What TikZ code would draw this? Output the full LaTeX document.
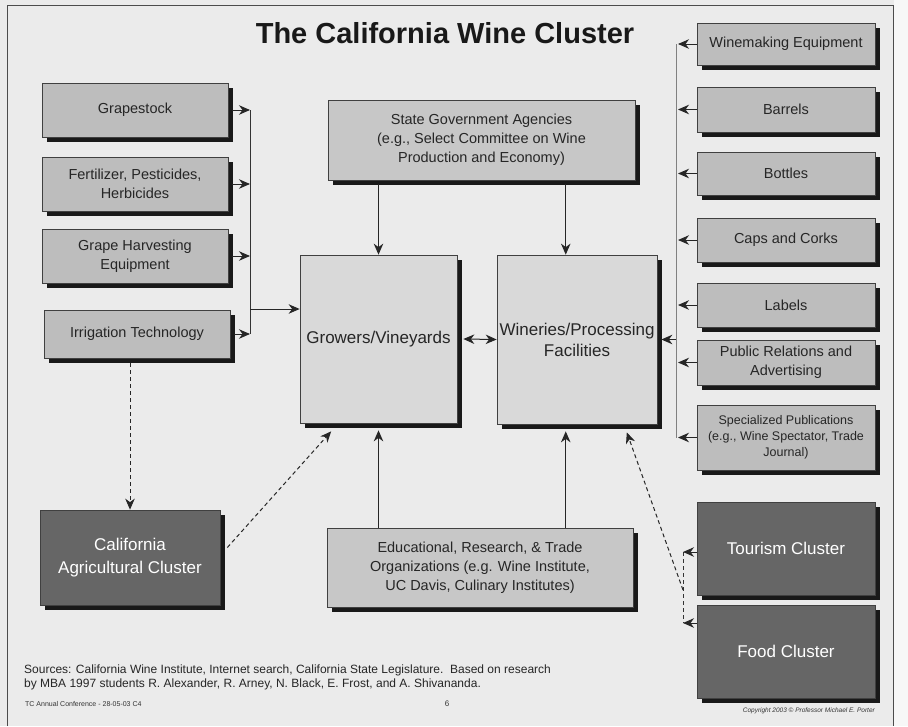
\documentclass[tikz,border=0pt]{standalone}
\usepackage{fontspec}
\setmainfont{Liberation Sans}
\usetikzlibrary{arrows.meta,shadows,calc}
\tikzset{
  box/.style={draw=black!75, line width=0.7pt, fill=#1, text=black!85, align=center, inner sep=2pt,
    font=\fontsize{14.5}{19}\selectfont,
    drop shadow={shadow xshift=4.5pt, shadow yshift=-4.5pt, fill=black!90, opacity=1}},
  box/.default=black!26,
  bigbox/.style={box=black!15, font=\fontsize{17}{21}\selectfont},
  dbox/.style={box=black!60, text=white!90, font=\fontsize{17}{23}\selectfont},
  tip/.tip={Stealth[length=11pt,width=9.5pt,inset=3.5pt]},
  arr/.style={-tip, line width=1pt, draw=black!85},
  darr/.style={arr, dash pattern=on 4pt off 3pt},
  busline/.style={line width=1pt, draw=black!80},
  lightbus/.style={line width=0.7pt, draw=black!50},
  dline/.style={line width=1pt, draw=black!80, dash pattern=on 4pt off 3pt},
}
\begin{document}
\begin{tikzpicture}[x=1pt,y=-1pt]
\useasboundingbox (0,0) rectangle (908,726);
\fill[black!8] (0,0) rectangle (908,726);
\fill[black!3] (894,0) rectangle (908,726);
\draw[black!70, line width=1pt] (7,726) -- (7,5) -- (893,5) -- (893,726);

\node[font=\fontsize{29}{34}\bfseries\selectfont, text=black!90] (title) at (445,33) {The California Wine Cluster};

% left column
\node[box, minimum width=186pt, minimum height=54pt] (grape) at (135,110) {Grapestock};
\node[box, minimum width=186pt, minimum height=54pt] (fert) at (135,184) {Fertilizer, Pesticides,\\Herbicides};
\node[box, minimum width=186pt, minimum height=54pt] (harv) at (135,256) {Grape Harvesting\\Equipment};
\node[box, minimum width=186pt, minimum height=48pt] (irr) at (137,334) {Irrigation Technology};

% centre
\node[box=black!22, minimum width=307pt, minimum height=80pt] (state) at (481.5,140) {State Government Agencies\\(e.g., Select Committee on Wine\\Production and Economy)};
\node[bigbox, minimum width=157pt, minimum height=168pt] (grow) at (378.5,339) {Growers/Vineyards};
\node[bigbox, minimum width=160pt, minimum height=169pt, inner sep=0pt] (win) at (577,339.5) {Wineries/Processing\\Facilities};
\node[box=black!22, minimum width=306pt, minimum height=79pt] (edu) at (480,567.5) {Educational, Research, \& Trade\\Organizations (e.g. Wine Institute,\\UC Davis, Culinary Institutes)};

% right column
\node[box, minimum width=178pt, minimum height=42pt] (wme) at (786,44) {Winemaking Equipment};
\node[box, minimum width=178pt, minimum height=45pt] (barrels) at (786,109.5) {Barrels};
\node[box, minimum width=178pt, minimum height=43pt] (bottles) at (786,173.5) {Bottles};
\node[box, minimum width=178pt, minimum height=44pt] (caps) at (786,240) {Caps and Corks};
\node[box, minimum width=178pt, minimum height=44pt] (labels) at (786,305) {Labels};
\node[box, minimum width=178pt, minimum height=45pt] (pr) at (786,362.5) {Public Relations and\\Advertising};
\node[box, minimum width=178pt, minimum height=65pt, font=\fontsize{12.5}{16}\selectfont] (spec) at (786,437.5) {Specialized Publications\\(e.g., Wine Spectator, Trade\\Journal)};

% dark clusters
\node[dbox, minimum width=180pt, minimum height=95pt] (ag) at (130,557.5) {California\\Agricultural Cluster};
\node[dbox, minimum width=178pt, minimum height=93pt] (tour) at (786,548.5) {Tourism Cluster};
\node[dbox, minimum width=178pt, minimum height=93pt] (food) at (786,651.5) {Food Cluster};

% left bus
\coordinate (lbus) at (250,110);
\coordinate (lj) at (250,309);
\draw[busline] (grape.east -| lbus) -- (irr.east -| lbus);
\foreach \n in {grape,fert,harv,irr} \draw[arr] ($(\n.east)+(4,0)$) -- (\n.east -| lbus);
\draw[arr] (lj) -- (lj -| grow.west);

% state government and education
\coordinate (wintop) at ($(win.north west)!0.43!(win.north east)$);
\coordinate (winbot) at ($(win.south west)!0.43!(win.south east)$);
\coordinate (winbotS) at ($(winbot)+(0,7)$);
\coordinate (growbotS) at ($(grow.south)+(0,7)$);
\draw[arr] ($(state.south -| grow.north)+(0,4)$) -- (grow.north);
\draw[arr] ($(state.south -| wintop)+(0,4)$) -- (wintop);
\draw[arr] (edu.north -| grow.south) -- (growbotS);
\draw[arr] (edu.north -| winbot) -- (winbotS);
\draw[arr, tip-tip] ($(grow.east)+(6,0)$) -- (win.west);

% right bus
\coordinate (rbus) at (676,50);
\draw[lightbus] (wme.west -| rbus) -- (spec.west -| rbus);
\foreach \n in {wme,barrels,bottles,caps,labels,pr,spec} \draw[arr] (\n.west) -- ($(\n.west -| rbus)+(2,0)$);
\draw[arr] (rbus |- win.east) -- ($(win.east)+(4,0)$);

% dashed links
\coordinate (agtail) at ($(ag.east)+(7,-10)$);
\coordinate (grhead) at ($(grow.south west)!0.2!(grow.south east)$);
\draw[darr] ($(irr.south -| ag.north)+(0,5)$) -- (ag.north);
\draw[darr] (agtail) -- ($(grhead)+(0,8)$);

\coordinate (tb) at (683,552);
\coordinate (fb) at (683,623);
\coordinate (tf) at (683,590);
\coordinate (wnhead) at ($(win.south west)!0.81!(win.south east)$);
\draw[dline] (tb) -- (fb);
\draw[arr] (tour.west |- tb) -- (tb);
\draw[arr] (food.west |- fb) -- (fb);
\draw[darr] (tf) -- ($(wnhead)+(0,8)$);

% footer
\node[anchor=north west, align=left, font=\fontsize{12}{13.5}\selectfont, text=black!85, inner sep=0pt] (src) at (24,665)
 {Sources: California Wine Institute, Internet search, California State Legislature.\ \ Based on research\\by MBA 1997 students R. Alexander, R. Arney, N. Black, E. Frost, and A. Shivananda.};
\node[anchor=west, font=\fontsize{7}{8}\selectfont, text=black!80, inner sep=0pt] (conf) at (25,704) {TC Annual Conference - 28-05-03 C4};
\node[font=\fontsize{8}{9}\selectfont, text=black!80, inner sep=0pt] (pg) at (447,704) {6};
\node[anchor=east, font=\fontsize{6.5}{7}\itshape\selectfont, text=black!80, inner sep=0pt] (copy) at (875,711) {Copyright 2003 \textcopyright\ Professor Michael E. Porter};
\end{tikzpicture}
\end{document}
